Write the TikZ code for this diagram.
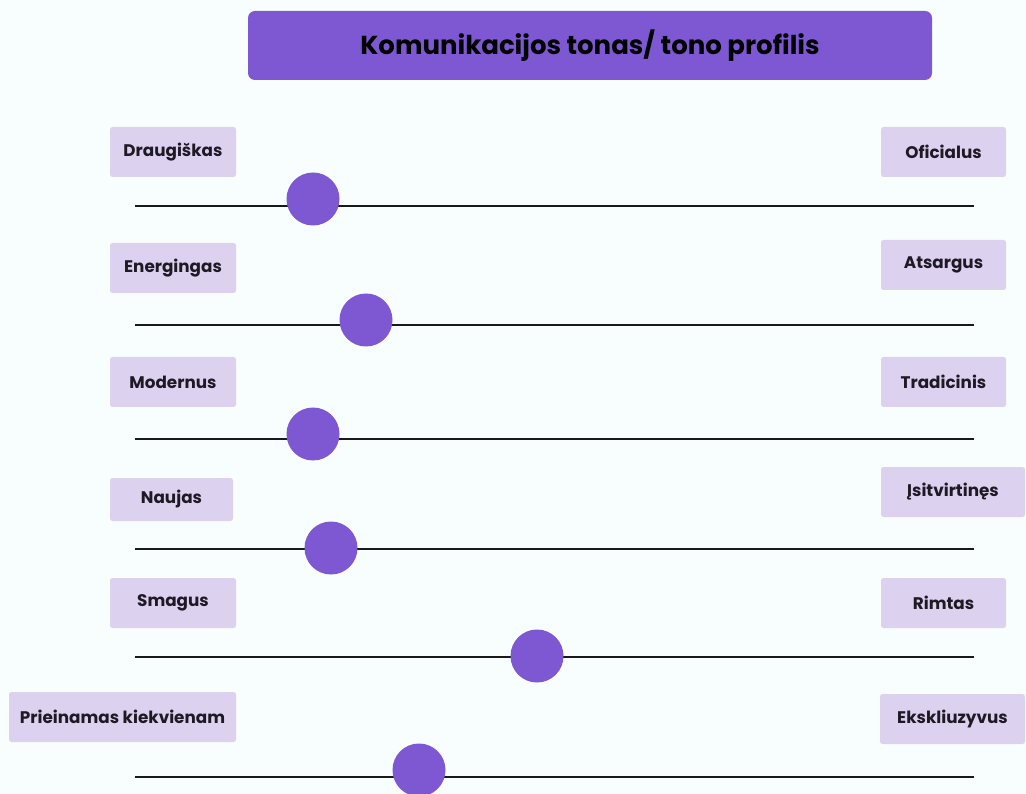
\documentclass[tikz,border=0pt]{standalone}
\usepackage{fontspec}
\setmainfont{Poppins}
\definecolor{bgc}{HTML}{F8FEFE}
\definecolor{purp}{HTML}{7E57D2}
\definecolor{lav}{HTML}{DDD1F0}
\definecolor{txt}{HTML}{1E1A24}
\begin{document}
\begin{tikzpicture}[x=1pt,y=-1pt,
  lbl/.style={fill=lav,rounded corners=2.5pt,inner sep=0pt,text=txt,font=\fontsize{16.8}{20}\selectfont\bfseries},
  knob/.style={circle,fill=purp,minimum size=53pt,inner sep=0pt},
  track/.style={line width=2.3pt,black!90}]
\fill[bgc] (0,0) rectangle (1026,794);
\useasboundingbox (0,0) rectangle (1026,794);
\node[fill=purp,rounded corners=7pt,minimum width=684pt,minimum height=69pt,inner sep=0pt,font=\fontsize{26}{28}\selectfont\bfseries,text=black] (title) at (590,45.5) {Komunikacijos tonas/ tono profilis};
% left labels
\node[lbl,minimum width=126pt,minimum height=50pt] (l1) at (173,152) {Draugiškas};
\node[lbl,minimum width=126pt,minimum height=50pt] (l2) at (173,268) {Energingas};
\node[lbl,minimum width=126pt,minimum height=50pt] (l3) at (173,382) {Modernus};
\node[lbl,minimum width=123pt,minimum height=43pt] (l4) at (171.5,499.5) {Naujas};
\node[lbl,minimum width=126pt,minimum height=50pt] (l5) at (173,603) {Smagus};
\node[lbl,minimum width=227pt,minimum height=50pt] (l6) at (122.5,717) {Prieinamas kiekvienam};
% right labels
\node[lbl,minimum width=125pt,minimum height=50pt] (r1) at (943.5,152) {Oficialus};
\node[lbl,minimum width=125pt,minimum height=50pt] (r2) at (943.5,265) {Atsargus};
\node[lbl,minimum width=125pt,minimum height=50pt] (r3) at (943.5,382) {Tradicinis};
\node[lbl,minimum width=144pt,minimum height=50pt] (r4) at (953,492) {Įsitvirtinęs};
\node[lbl,minimum width=125pt,minimum height=50pt] (r5) at (943.5,603) {Rimtas};
\node[lbl,minimum width=145pt,minimum height=50pt] (r6) at (952.5,719) {Ekskliuzyvus};
% tracks
\foreach \i/\y in {1/206,2/325,3/439,4/549,5/657,6/777}{
  \coordinate (a\i) at (135,\y);
  \coordinate (b\i) at (974,\y);
  \draw[track] (a\i) -- (b\i);
}
\node[knob] (k1) at (313,199) {};
\node[knob] (k2) at (366,320) {};
\node[knob] (k3) at (313,434) {};
\node[knob] (k4) at (331,548) {};
\node[knob] (k5) at (537,656) {};
\node[knob] (k6) at (419,770) {};
\end{tikzpicture}
\end{document}
